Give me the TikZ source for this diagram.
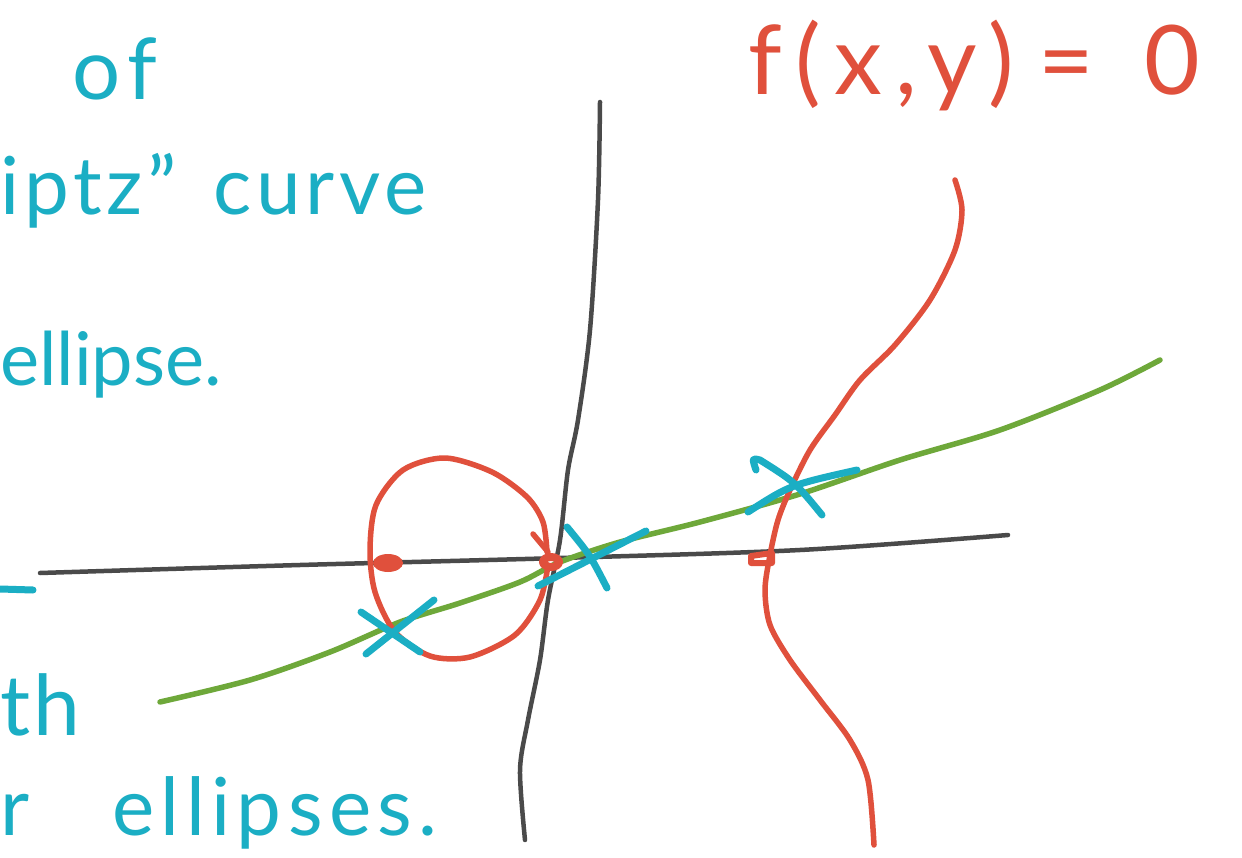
\documentclass[tikz,border=0pt]{standalone}
\usepackage{fontspec}
\setmainfont{Lato}
\definecolor{inkcyan}{HTML}{1BAEC4}
\definecolor{inkred}{HTML}{E0503C}
\definecolor{inkgreen}{HTML}{6EA83A}
\definecolor{inkgray}{HTML}{4A4A4A}
\begin{document}
\begin{tikzpicture}[x=1pt,y=-1pt,line cap=round,line join=round,
  axis/.style={inkgray,line width=4.5pt},
  redink/.style={inkred,line width=5.5pt},
  greenink/.style={inkgreen,line width=5.5pt},
  cross/.style={inkcyan,line width=7pt},
  cyantext/.style={inkcyan,anchor=base west,inner sep=0pt},
  redtext/.style={inkred,anchor=base west,inner sep=0pt}]
\useasboundingbox (0,0) rectangle (1242,858);
\fill[white] (0,0) rectangle (1242,858);
% axes
\draw[axis] plot[smooth] coordinates {(600,102) (598,200) (590,330) (578,420) (568,470) (560,540) (548,600) (540,660) (528,720) (520,770) (525,840)};
\draw[axis] plot[smooth] coordinates {(40,573) (300,565) (560,558) (800,550) (1008,535)};
% green line
\draw[greenink] plot[smooth] coordinates {(160,702) (250,680) (330,652) (400,622) (460,603) (520,582) (560,562) (620,542) (700,522) (800,494) (900,460) (1000,430) (1100,390) (1160,360)};
% red circle
\draw[redink] plot[smooth] coordinates {(548,565) (540,600) (515,635) (470,657) (430,656) (395,632) (375,592) (370,550) (376,505) (403,470) (445,458) (492,472) (527,497) (543,522) (547,552)};
\draw[redink] (533,534) -- (548,552);
\fill[inkred] (388,563) ellipse (15pt and 9pt);
\draw[redink,line width=8pt] (551,562) ellipse (8pt and 5pt);
\draw[redink,line width=6pt] (751,556) -- (772,553) -- (772,563) -- (751,563) -- cycle;
% red right curve
\draw[redink] plot[smooth] coordinates {(955,180) (962,210) (955,250) (930,300) (895,345) (860,380) (835,415) (810,450) (790,490) (778,520) (770,555) (765,590) (770,625) (790,660) (820,700) (850,740) (868,780) (874,845)};
% cyan crosses
\draw[cross] (361,612) -- (420,652);
\draw[cross] (366,654) -- (434,600);
\draw[cross] (567,527) .. controls (590,555) .. (607,588);
\draw[cross] (538,586) -- (646,531);
\draw[cross] (756,470) .. controls (752,458) .. (760,460) .. controls (795,482) .. (822,515);
\draw[cross] (748,512) .. controls (790,485) .. (857,470);
% cyan text
\node[cyantext,font=\fontsize{85}{95}\selectfont\addfontfeatures{LetterSpace=10}] (t1) at (72,100) {of};
\node[cyantext,font=\fontsize{80}{90}\selectfont\addfontfeatures{LetterSpace=6}] (t2) at (0,215) {iptz”\hspace{36pt}curve};
\node[cyantext,font=\fontsize{74}{84}\selectfont] (t3) at (0,385) {ellipse.};
\draw[inkcyan,line width=7pt] (0,589) -- (33,590);
\node[cyantext,font=\fontsize{84}{94}\selectfont\addfontfeatures{LetterSpace=4}] (t4) at (0,735) {th};
\node[cyantext,font=\fontsize{80}{90}\selectfont\addfontfeatures{LetterSpace=8}] (t5) at (0,835) {r\hspace{56pt} ellipses.};
% red text
\node[redtext,font=\fontsize{96}{110}\selectfont\addfontfeatures{LetterSpace=14}] (f) at (748,95) {f(x,y)\hspace{25pt}=\hspace{50pt}0};
\end{tikzpicture}
\end{document}
